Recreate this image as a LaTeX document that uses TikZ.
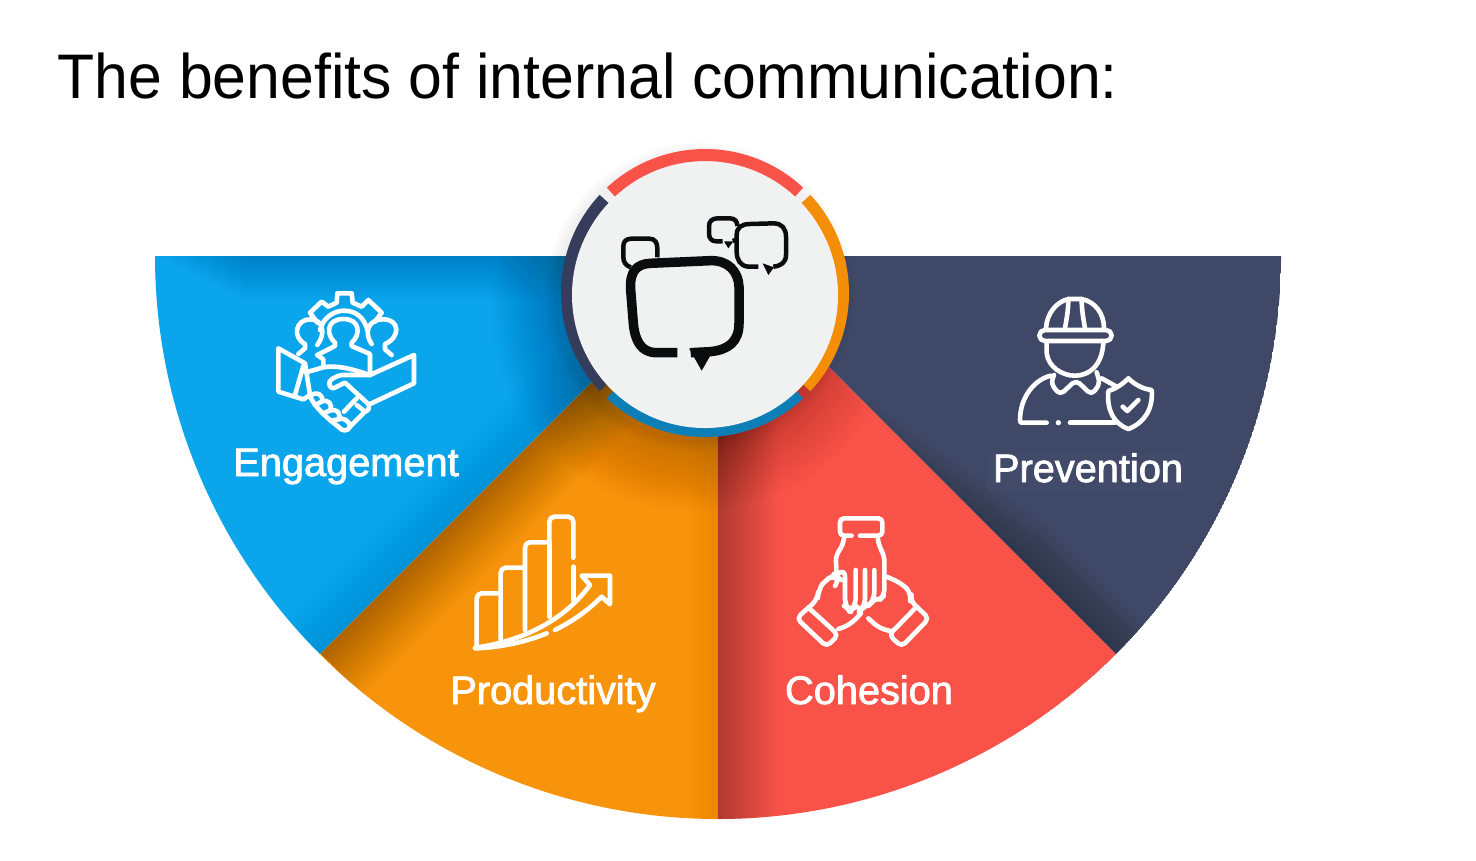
\documentclass[tikz,border=0pt]{standalone}
\usepackage{fontspec}
\setmainfont{Liberation Sans}
\newfontfamily\titlefont[FakeStretch=0.965]{Liberation Sans}
\newfontfamily\labelfont[FakeBold=2]{Liberation Sans}
\usepackage{xcolor}
\usetikzlibrary{calc}
\definecolor{wedgeblue}{HTML}{0BA5EC}
\definecolor{wedgeorange}{HTML}{F8940B}
\definecolor{wedgered}{HTML}{F95248}
\definecolor{wedgenavy}{HTML}{404868}
\definecolor{ringblue}{HTML}{0E7FB6}
\definecolor{ringorange}{HTML}{F58E07}
\definecolor{ringnavy}{HTML}{363D5C}
\definecolor{discgrey}{HTML}{F0F2F2}
\definecolor{bubbleblack}{HTML}{0B0C0E}
\tikzset{
    iconline/.style={white,line width=.46mm,line cap=round,line join=round},
    ringarc/.style={line width=1.2mm},
    bubbleline/.style={bubbleblack,line width=.45mm,line cap=butt,line join=round},
    labeltext/.style={white,anchor=base,inner sep=0pt,font=\labelfont\fontsize{11.3}{13}\selectfont},
}
\newcommand{\sectorpath}[2]{(O) -- ++(#1:563) arc[start angle=#1,end angle=#2,radius=563] -- cycle}
\begin{document}
\begin{tikzpicture}[x=.01cm,y=-.01cm]
            \useasboundingbox (0,0) rectangle (1476,860);
            \coordinate (O) at (718,256);
            \coordinate (C) at (705,293);
            \coordinate (BL) at (321,654);
            \coordinate (BM) at (718,819);
            \coordinate (BR) at (1115,654);
            \node[anchor=base west,inner sep=0pt,font=\titlefont\fontsize{17.9}{20}\selectfont] (title) at (57,98) {The benefits of internal communication:};
            % blue
            \begin{scope}
                \clip \sectorpath{180}{135};
                \fill[wedgeblue] \sectorpath{180}{135};
                \foreach \w in {5,10,...,90}
                    \draw[black,opacity=.009,line width=\w*.1mm] (155+\w,256) -- (O);
                \foreach \w in {5,10,...,100}
                    \draw[black,opacity=.003,line width=\w*.1mm] (BL) -- (O);
            \end{scope}
            % orange
            \begin{scope}
                \clip \sectorpath{135}{90};
                \fill[wedgeorange] \sectorpath{135}{90};
                \foreach \w in {5,10,...,120}
                    \draw[black,opacity=.0125,line width=\w*.1mm] (BL) -- (O);
                \foreach \w in {5,10,...,60}
                    \draw[black,opacity=.004,line width=\w*.1mm] (BM) -- (O);
            \end{scope}
            % red
            \begin{scope}
                \clip \sectorpath{90}{45};
                \fill[wedgered] \sectorpath{90}{45};
                \foreach \w in {5,10,...,120}
                    \draw[black,opacity=.011,line width=\w*.1mm] (BM) -- (O);
            \end{scope}
            % navy
            \begin{scope}
                \clip \sectorpath{45}{0};
                \fill[wedgenavy] \sectorpath{45}{0};
                \foreach \w in {5,10,...,90}
                    \draw[black,opacity=.012,line width=\w*.1mm] ($(O)!{.3+\w/200}!(BR)$) -- (BR);
            \end{scope}
            % shadow of the disc
            \begin{scope}
                \clip (0,256) -- (O) -- (BR) -- (1115,860) -- (0,860) -- cycle;
                \foreach \r in {135,138,...,204}
                    \fill[black,opacity=.009] (695,308) circle (\r);
            \end{scope}
            \foreach \r in {146,150,154}
                \fill[black,opacity=.02] (700,297) circle (\r);
            % faint patches behind two labels
            \fill[wedgeorange,opacity=.6] (450,669) rectangle (675,713);
            \fill[wedgenavy!99!white] (987,452) rectangle (1186,491);
            % ring
            \draw[ringarc,wedgered] (C) ++(-47:138) arc[start angle=-47,end angle=-133,radius=138];
            \draw[ringarc,ringnavy] (C) ++(-137:138) arc[start angle=-137,end angle=-223,radius=138];
            \draw[ringarc,ringblue] (C) ++(-227:138) arc[start angle=-227,end angle=-313,radius=138];
            \draw[ringarc,ringorange] (C) ++(-317:138) arc[start angle=-317,end angle=-403,radius=138];
            \fill[discgrey,draw=black!5,line width=.2mm] (705,295) circle (132);
            % bubbles
            \begin{scope}[shift={(540,140)},scale=1/3]
                \draw[bubbleline] (272,382) .. controls (255,375) and (250,365) .. (250,350) -- (250,318) .. controls (250,303) and (260,296) .. (275,296) -- (328,296) .. controls (345,296) and (352,308) .. (352,325) -- (352,352);
                \draw[bubbleline] (548,304) -- (530,304) .. controls (514,304) and (507,295) .. (507,280) -- (507,258) .. controls (507,243) and (518,235) .. (533,235) -- (570,235) .. controls (585,235) and (592,245) .. (592,258);
                \draw[bubbleline] (578,303) -- (592,298);
                \fill[bubbleblack] (552,304) -- (580,304) -- (565,325) -- cycle;
                \draw[bubbleline] (655,380) -- (625,380) .. controls (600,378) and (590,358) .. (590,335) -- (590,285) .. controls (590,262) and (605,252) .. (630,252) -- (700,250) .. controls (725,250) and (738,265) .. (738,290) -- (738,345) .. controls (738,368) and (722,378) .. (700,380);
                \fill[bubbleblack] (668,370) -- (702,382) -- (685,405) -- cycle;
                \draw[bubbleline,line width=.95mm] (412,638) -- (350,638) .. controls (305,638) and (285,605) .. (280,550) -- (272,450) .. controls (268,395) and (290,372) .. (330,370) -- (510,362) .. controls (565,360) and (595,395) .. (597,440) -- (597,550) .. controls (597,605) and (565,630) .. (510,635) -- (452,638);
                \fill[bubbleblack] (447,625) -- (512,645) -- (485,692) -- cycle;
            \end{scope}
            % engagement icon
            \begin{scope}[shift={(260,280)},scale=1/3]
                \draw[iconline] (172,128) -- (150,98) -- (185,65) -- (205,80) -- (230,68) -- (232,40) -- (275,40) -- (278,68) -- (305,80) -- (325,60) -- (365,98) -- (345,125);
                \draw[iconline] (180,150) .. controls (190,110) and (225,92) .. (252,92) .. controls (285,92) and (312,110) .. (322,150);
                \draw[iconline] (172,225) -- (225,198) -- (225,188) .. controls (198,165) and (198,117) .. (250,117) .. controls (302,117) and (302,165) .. (275,188) -- (275,198) -- (330,222) -- (330,285);
                \draw[iconline] (190,255) -- (190,238) -- (172,225);
                \draw[iconline] (172,195) .. controls (198,160) and (190,118) .. (150,118) .. controls (108,118) and (95,170) .. (135,192) -- (135,205) -- (115,222);
                \draw[iconline] (335,192) .. controls (312,160) and (322,118) .. (370,118) .. controls (420,118) and (422,172) .. (375,192) -- (375,208) -- (395,225);
                \draw[iconline] (135,250) -- (55,205) -- (55,335) -- (130,358) -- (150,345) -- (135,250);
                \draw[iconline] (130,258) -- (105,345);
                \draw[iconline] (145,275) -- (190,262) .. controls (230,255) and (270,265) .. (330,285) -- (462,225) -- (462,310) -- (330,372);
                \draw[iconline] (330,285) -- (245,285) .. controls (200,295) and (200,320) .. (220,325) -- (255,308) -- (325,372) .. controls (330,385) and (325,392) .. (315,395) -- (270,440);
                \draw[iconline] (290,355) -- (252,395);
                \draw[iconline] (315,395) -- (290,375);
                \draw[iconline] (150,350) .. controls (165,330) and (195,345) .. (185,365) -- (165,375) -- (150,350);
                \draw[iconline] (185,365) .. controls (205,355) and (220,375) .. (210,392) -- (188,400) -- (165,375);
                \draw[iconline] (210,392) .. controls (230,385) and (245,400) .. (235,418) -- (212,422) -- (188,400);
                \draw[iconline] (235,418) .. controls (250,410) and (270,425) .. (270,440) .. controls (265,455) and (245,455) .. (235,440) -- (212,422);
            \end{scope}
            % productivity icon
            \begin{scope}[shift={(460,505)},scale=1/3]
                \draw[iconline,rounded corners=.5mm] (50,420) -- (50,265) -- (122,265);
                \draw[iconline,rounded corners=.5mm] (122,405) -- (122,188) -- (195,188);
                \draw[iconline,rounded corners=.5mm] (195,375) -- (195,112) -- (268,112);
                \draw[iconline] (268,335) -- (268,112);
                \draw[iconline,rounded corners=.5mm] (268,112) -- (268,35) -- (340,35) -- (340,158);
                \draw[iconline] (340,185) -- (340,285);
                \draw[iconline] (45,428) .. controls (180,410) and (310,350) .. (390,240) -- (365,212) -- (450,212) -- (450,298) -- (425,275) .. controls (380,320) and (335,350) .. (285,375);
                \draw[iconline] (45,430) .. controls (120,428) and (200,410) .. (260,385);
            \end{scope}
            % cohesion icon
            \begin{scope}[shift={(785,505)},scale=1/3]
                \draw[iconline,rounded corners=.4mm] (200,92) -- (165,92) -- (165,40) -- (292,40) -- (292,92) -- (225,92);
                \draw[iconline,rounded corners=.6mm] (178,95) -- (172,125) -- (152,150) -- (155,210);
                \draw[iconline,rounded corners=.6mm] (278,95) -- (282,125) -- (298,150) -- (298,270) -- (285,285) -- (268,285);
                \draw[iconline,rounded corners=.8mm] (155,210) -- (180,190) -- (180,305) -- (195,318) -- (212,305) -- (212,195);
                \draw[iconline,rounded corners=.8mm] (212,305) -- (222,320) -- (240,305) -- (240,195);
                \draw[iconline,rounded corners=.8mm] (240,305) -- (255,298) -- (268,285) -- (268,195);
                \draw[iconline,rounded corners=.8mm] (150,243) -- (165,222) -- (150,210) -- (120,225) -- (100,255) -- (98,285) -- (70,308);
                \draw[iconline,rounded corners=.5mm] (70,308) -- (35,340) -- (125,425) -- (160,390) -- (95,330) -- (70,308);
                \draw[iconline,rounded corners=.8mm] (160,372) -- (195,360) -- (228,325);
                \draw[iconline,rounded corners=.8mm] (305,215) -- (350,235) -- (380,265) -- (375,292) -- (395,305);
                \draw[iconline,rounded corners=.5mm] (395,305) -- (432,340) -- (350,425) -- (312,390) -- (395,305);
                \draw[iconline,rounded corners=.8mm] (250,340) -- (285,372) -- (318,378);
            \end{scope}
            % prevention icon
            \begin{scope}[shift={(1000,285)},scale=1/3]
                \draw[iconline] (138,130) .. controls (140,85) and (170,50) .. (205,42) -- (245,42) .. controls (285,50) and (312,85) .. (312,130);
                \draw[iconline] (205,42) .. controls (205,75) and (200,100) .. (195,130);
                \draw[iconline] (245,42) .. controls (245,75) and (250,100) .. (255,130);
                \draw[iconline,rounded corners=.55mm] (118,135) rectangle (335,168);
                \draw[iconline] (140,175) -- (140,205) .. controls (145,245) and (185,272) .. (225,272) .. controls (265,272) and (305,245) .. (310,175);
                \draw[iconline,rounded corners=.5mm] (162,270) -- (152,295) -- (180,330) -- (228,285) -- (275,330) -- (300,295) -- (290,262);
                \draw[iconline] (152,272) .. controls (100,285) and (60,340) .. (60,405) -- (62,413) -- (140,413);
                \fill[white] (175,413) circle (8);
                \draw[iconline] (210,413) -- (345,413);
                \draw[iconline] (305,280) -- (350,305);
                \draw[iconline,line join=round] (385,280) .. controls (405,300) and (430,312) .. (455,315) .. controls (460,375) and (430,415) .. (385,432) .. controls (340,415) and (320,375) .. (325,318) .. controls (345,312) and (365,300) .. (385,280) -- cycle;
                \draw[iconline] (368,365) -- (382,378) -- (415,345);
            \end{scope}
            \node[labeltext] (engagement) at (346,476) {Engagement};
            \node[labeltext] (productivity) at (553,704) {Productivity};
            \node[labeltext] (cohesion) at (869,704) {Cohesion};
            \node[labeltext] (prevention) at (1088,482) {Prevention};
\end{tikzpicture}
\end{document}
